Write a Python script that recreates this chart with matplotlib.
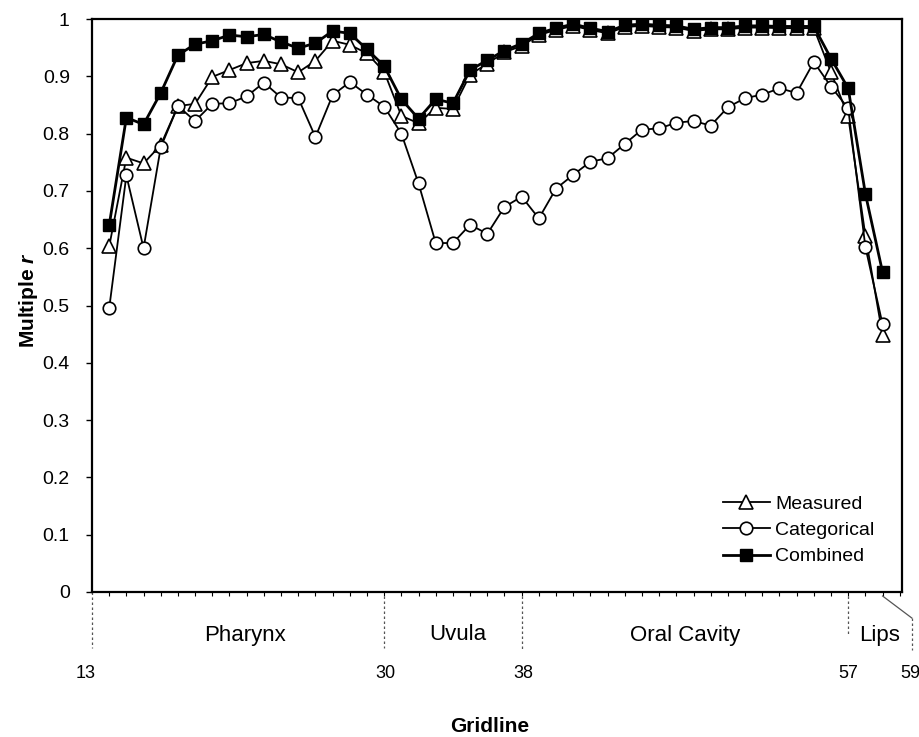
import numpy as np
import matplotlib
matplotlib.use("Agg")
import matplotlib.pyplot as plt
import matplotlib.transforms as mtransforms
from matplotlib.lines import Line2D

plt.rcParams['font.family'] = ['Liberation Sans', 'DejaVu Sans']
plt.rcParams['mathtext.fontset'] = 'custom'
plt.rcParams['mathtext.it'] = 'Liberation Sans:italic:bold'
plt.rcParams['mathtext.rm'] = 'Liberation Sans:bold'

# ---------------- data ----------------
gridline = list(range(14, 60))

measured = [0.603, 0.758, 0.748, 0.780, 0.848, 0.852, 0.899, 0.911, 0.923, 0.927,
            0.921, 0.907, 0.927, 0.962, 0.955, 0.940, 0.908, 0.831, 0.818, 0.845,
            0.843, 0.903, 0.922, 0.942, 0.953, 0.972, 0.981, 0.988, 0.981, 0.975,
            0.986, 0.988, 0.986, 0.985, 0.979, 0.982, 0.982, 0.985, 0.985, 0.984,
            0.984, 0.984, 0.907, 0.830, 0.622, 0.448]

categorical = [0.495, 0.727, 0.600, 0.776, 0.848, 0.822, 0.852, 0.853, 0.865, 0.889,
               0.863, 0.862, 0.794, 0.867, 0.890, 0.868, 0.847, 0.800, 0.713, 0.609,
               0.609, 0.641, 0.625, 0.672, 0.690, 0.652, 0.704, 0.728, 0.751, 0.757,
               0.782, 0.807, 0.809, 0.819, 0.822, 0.814, 0.846, 0.862, 0.868, 0.879,
               0.871, 0.925, 0.882, 0.844, 0.602, 0.467]

combined = [0.640, 0.828, 0.816, 0.871, 0.937, 0.956, 0.962, 0.972, 0.969, 0.973,
            0.960, 0.949, 0.958, 0.979, 0.975, 0.947, 0.918, 0.860, 0.826, 0.860,
            0.853, 0.911, 0.928, 0.945, 0.957, 0.975, 0.984, 0.991, 0.984, 0.978,
            0.989, 0.991, 0.989, 0.988, 0.982, 0.985, 0.985, 0.988, 0.988, 0.987,
            0.987, 0.987, 0.931, 0.879, 0.695, 0.558]

series_names = ['Measured', 'Categorical', 'Combined']

region_names = ['Pharynx', 'Uvula', 'Oral Cavity', 'Lips']
region_label_x = [21.9, 34.3, 47.5, 58.8]
boundary_gridlines = [13, 30, 38, 57]
boundary_labels = ['13', '30', '38', '57', '59']
boundary_label_x = [12.6, 30.05, 38.1, 57.0, 60.6]

y_ticks = [0, 0.1, 0.2, 0.3, 0.4, 0.5, 0.6, 0.7, 0.8, 0.9, 1.0]
y_tick_labels = ['0', '0.1', '0.2', '0.3', '0.4', '0.5', '0.6', '0.7', '0.8', '0.9', '1']

# ---------------- figure ----------------
W, H = 919, 737
fig = plt.figure(figsize=(W / 100, H / 100), dpi=100)
L, R, T, B = 92, 902, 19, 592
ax = fig.add_axes([L / W, 1 - B / H, (R - L) / W, (B - T) / H])
ppx = 1.0 / (B - T)  # axes fraction per pixel (vertical)

ax.plot(gridline, measured, marker='^', color='black', mfc='white', mec='black',
        ms=9.5, mew=1.2, lw=1.3, label=series_names[0], zorder=3)
ax.plot(gridline, categorical, marker='o', color='black', mfc='white', mec='black',
        ms=9, mew=1.2, lw=1.3, label=series_names[1], zorder=4)
ax.plot(gridline, combined, marker='s', color='black', mfc='black', mec='black',
        ms=8, mew=1.0, lw=2.0, label=series_names[2], zorder=5)

ax.set_xlim(13, 60.13)
ax.set_ylim(0, 1)
ax.set_yticks(y_ticks)
ax.set_yticklabels(y_tick_labels)
ax.set_xticks(list(range(14, 61)))
ax.set_xticklabels([])
ax.tick_params(axis='y', direction='out', length=4, width=1.0, pad=12, labelsize=14)
ax.tick_params(axis='x', direction='out', length=3, width=0.8)
for sp in ax.spines.values():
    sp.set_linewidth(1.6)
    sp.set_color('black')

ax.set_ylabel(r'Multiple $r$', fontsize=15, fontweight='bold')
ax.yaxis.set_label_coords((40 - L) / (R - L), 1 - (300 - T) / (B - T))
ax.set_xlabel('Gridline', fontsize=15, fontweight='bold')
ax.xaxis.set_label_coords((490 - L) / (R - L), -(717 - B) * ppx)

leg = ax.legend(loc='upper left', bbox_to_anchor=((723 - L) / (R - L), 1 - (495 - T) / (B - T)),
                frameon=False, fontsize=14, handlelength=2.4, handletextpad=0.3,
                labelspacing=0.45, borderpad=0, borderaxespad=0)

# ---------------- region annotations below the axis ----------------
trans = mtransforms.blended_transform_factory(ax.transData, ax.transAxes)
line_ranges = [(0, 56), (4, 56), (4, 58), (4, 44)]
for g, (a, b) in zip(boundary_gridlines, line_ranges):
    ax.add_line(Line2D([g, g], [-a * ppx, -b * ppx], transform=trans, color='#555555',
                       lw=0.9, ls=(0, (2, 2)), clip_on=False))
# slanted line to "59"
ax.add_line(Line2D([59, 60.7], [-4 * ppx, -26 * ppx], transform=trans, color='#555555',
                   lw=0.9, clip_on=False))
ax.add_line(Line2D([60.7, 60.7], [-26 * ppx, -58 * ppx], transform=trans, color='#555555',
                   lw=0.9, ls=(0, (2, 2)), clip_on=False))

for name, x in zip(region_names, region_label_x):
    ax.text(x, -43 * ppx, name, transform=trans, ha='center', va='center', fontsize=16)
for lab, x in zip(boundary_labels, boundary_label_x):
    ax.text(x, -81 * ppx, lab, transform=trans, ha='center', va='center', fontsize=13)

fig.savefig('out.png', dpi=100)
